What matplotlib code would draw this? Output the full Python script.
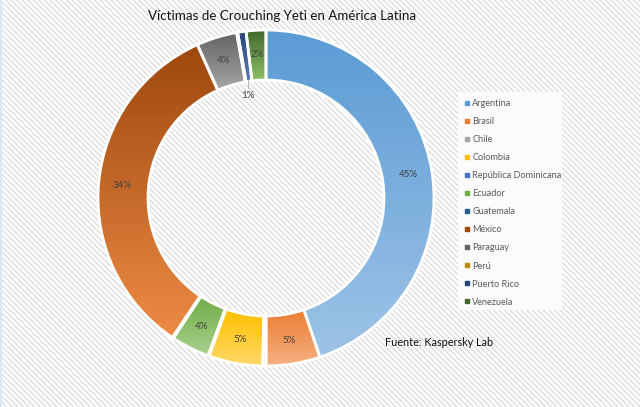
import numpy as np
import matplotlib.pyplot as plt
from matplotlib.colors import LinearSegmentedColormap
from matplotlib.lines import Line2D
from matplotlib.patches import Rectangle

paises = ["Argentina", "Brasil", "Chile", "Colombia", "República Dominicana", "Ecuador",
          "Guatemala", "México", "Paraguay", "Perú", "Puerto Rico", "Venezuela"]
valores = [44.8, 5.2, 0.3, 5.2, 0.1, 3.7, 0.1, 33.9, 3.9, 0.1, 0.8, 1.9]
etiquetas = ["45%", "5%", "", "5%", "", "4%", "", "34%", "4%", "", "1%", "2%"]
colores = ["#5B9BD5", "#ED7D31", "#A5A5A5", "#FFC000", "#4472C4", "#70AD47",
           "#255E91", "#9E480E", "#636363", "#C08A00", "#264478", "#43682B"]
claros = ["#9DC3E6", "#F4B183", "#C9C9C9", "#FFD966", "#8FAADC", "#A9D18E",
          "#5B8DB8", "#ED8B45", "#A6A6A6", "#D9A520", "#5C7DB8", "#8CC168"]

plt.rcParams['font.family'] = ['Lato', 'DejaVu Sans']
plt.rcParams['hatch.linewidth'] = 0.9

fig = plt.figure(figsize=(6.4, 4.07), dpi=100)
ax = fig.add_axes([0, 0, 1, 1])

cx, cy, radio = 266, 209, 168
wedges, _ = ax.pie(valores, startangle=90, counterclock=False, center=(cx, cy), radius=radio,
                   wedgeprops=dict(width=50), frame=False)

# fondo rayado
ax.add_patch(Rectangle((0, 0), 640, 407, facecolor="#FFFFFF", edgecolor="#DADADA",
                       hatch="\\\\\\\\\\\\", lw=0, zorder=0))
ax.add_patch(Rectangle((458, 97), 104, 218, facecolor="#FBFBFB", edgecolor="none", zorder=1))
# borde azulado a la izquierda
ax.axvline(1, color="#DCE6F1", lw=1.5, zorder=1)

# cada sector con degradado vertical
for w, c1, c2, val, et in zip(wedges, colores, claros, valores, etiquetas):
    ext = w.get_path().get_extents()
    cmap = LinearSegmentedColormap.from_list("g", [c1, c2])
    im = ax.imshow(np.linspace(0, 1, 64).reshape(-1, 1), cmap=cmap, aspect="auto",
                   extent=(ext.x0, ext.x1, ext.y0, ext.y1), origin="upper", zorder=2)
    im.set_clip_path(w)
    w.set_facecolor("none")
    w.set_edgecolor("white")
    w.set_linewidth(2.0)
    w.set_zorder(3)
    if et and et != "1%":
        ang = np.deg2rad((w.theta1 + w.theta2) / 2)
        ax.text(cx + 144 * np.cos(ang), cy + 144 * np.sin(ang), et, ha="center", va="center",
                fontsize=7, color="#404040", zorder=4)

# el 1% va fuera, con linea guia
w = wedges[paises.index("Puerto Rico")]
ang = np.deg2rad((w.theta1 + w.theta2) / 2)
ax.annotate("1%", xy=(cx + 119 * np.cos(ang), cy + 119 * np.sin(ang)), xytext=(248, 311),
            ha="center", va="center", fontsize=7, color="#404040", zorder=4,
            arrowprops=dict(arrowstyle="-", color="#A6A6A6", lw=0.6, shrinkA=0, shrinkB=0))

ax.set_xlim(0, 640)
ax.set_ylim(0, 407)

ax.text(282, 391, "Víctimas de Crouching Yeti en América Latina", ha="center", va="center",
        fontsize=9.6, color="#111111")
ax.text(385, 65, "Fuente: Kaspersky Lab", ha="left", va="center", fontsize=7.8, color="#111111")

handles = [Line2D([], [], linestyle="none", marker="s", markersize=2.8, color=c) for c in colores]
ax.legend(handles, paises, loc="upper left", bbox_to_anchor=(453 / 640, 1 - 91 / 407),
          bbox_transform=fig.transFigure, frameon=False, fontsize=6.6, labelcolor="#595959",
          labelspacing=0.985, handletextpad=0.0, borderpad=0.4, handlelength=1.2)

fig.savefig("out.png", dpi=100)
